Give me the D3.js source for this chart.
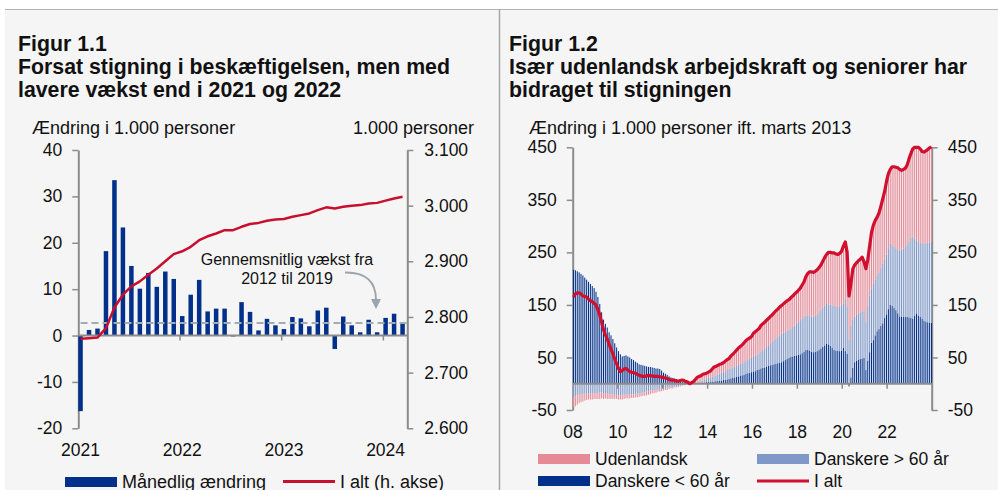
<!DOCTYPE html>
<html><head><meta charset="utf-8">
<script src="https://cdn.jsdelivr.net/npm/d3@7"></script>
<style>
body{margin:0;background:#fff;}
svg{display:block;font-family:"Liberation Sans",Arial,sans-serif;}
</style></head><body>
<svg id="c" width="998" height="490"></svg>
<script>
// ---------------- Figur 1.1 data ----------------
const months1 = ["2021-01","2021-02","2021-03","2021-04","2021-05","2021-06","2021-07","2021-08","2021-09","2021-10","2021-11","2021-12",
"2022-01","2022-02","2022-03","2022-04","2022-05","2022-06","2022-07","2022-08","2022-09","2022-10","2022-11","2022-12",
"2023-01","2023-02","2023-03","2023-04","2023-05","2023-06","2023-07","2023-08","2023-09","2023-10","2023-11","2023-12",
"2024-01","2024-02","2024-03"];
const monthlyChange = [-16.3,1.2,1.5,18.2,33.5,23.3,15.0,10.1,13.5,10.5,13.8,12.2,
4.2,8.8,12.0,5.2,5.8,5.8,-0.2,7.2,5.1,1.1,3.6,2.2,
1.4,4.0,3.7,2.0,5.4,6.0,-2.9,4.1,2.2,0.7,3.4,0.7,
3.8,4.7,2.6];
const totalLevel = [2761,2762,2763,2780,2817,2840,2855,2864,2876,2887,2900,2913,
2918,2926,2938,2945,2950,2956,2956,2962,2967,2969,2973,2975,
2976,2980,2983,2986,2992,2997,2995,2998,3000,3001,3004,3005,
3009,3013,3016];
const avgGrowth = 2.7;
const yearLabels1 = ["2021","2022","2023","2024"];
const leftTicks1 = [-20,-10,0,10,20,30,40];
const rightTicks1 = [2600,2700,2800,2900,3000,3100];

// ---------------- Figur 1.2 data (monthly, Jan 2008 - Dec 2023) ----------------
const years2 = [2008,2009,2010,2011,2012,2013,2014,2015,2016,2017,2018,2019,2020,2021,2022,2023];
const danskereUnder60 = [
217,216,214,212,209,206,202,198,194,190,186,182,
175,165,152,136,122,114,107,98,92,85,77,69,
62,56,52,53,54,52,50,47,45,42,40,37,
36,35,34,33,32,32,31,30,29,29,28,25,
21,19,17,14,12,11,10,9,7,6,4,3,
3,2,0,0,0,1,1,1,2,2,2,3,
3,3,4,4,5,5,6,6,7,7,8,9,
10,11,12,13,14,15,16,17,19,20,21,22,
23,24,26,27,29,30,31,32,34,35,36,37,
38,39,40,41,43,45,47,49,51,52,53,54,
55,56,58,61,64,65,63,61,60,61,62,64,
67,70,73,76,75,72,68,64,63,63,62,63,
68,62,57,-5,12,30,41,44,46,47,48,49,
26,44,60,78,83,92,100,104,110,115,125,132,
142,150,148,144,140,134,128,127,127,127,127,126,
125,124,130,134,130,127,124,120,118,117,116,116];
const danskereOver60 = [
-25,-24,-22,-20,-20,-20,-19,-19,-19,-19,-19,-18,
-18,-18,-17,-17,-18,-18,-19,-19,-20,-20,-21,-21,
-22,-22,-22,-21,-21,-21,-21,-20,-20,-19,-19,-18,
-18,-17,-16,-15,-14,-13,-12,-12,-11,-10,-10,-9,
-9,-8,-8,-7,-6,-6,-5,-5,-4,-3,-3,-2,
-1,-1,0,0.5,1,1,1.5,2,3,4,6,6,
8,9,9,10,11,12,13,15,15,17,18,19,
19,20,20,21,22,23,23,24,24,25,26,27,
28,29,30,31,32,34,36,38,39,41,44,46,
48,50,52,54,54,54,54,54,54,56,58,61,
63,65,66,66,66,65,66,67,68,68,69,72,
73,75,76,76,76,78,81,84,84,83,84,85,
84,98,89,83,98,92,87,87,88,89,90,89,
92,102,108,102,107,106,106,108,110,113,111,114,
116,117,116,117,118,121,126,128,130,133,138,144,
153,156,146,139,140,141,142,146,149,151,153,154];
const udenlandsk = [
-19,-19,-18,-17,-15,-14,-13,-12,-11,-11,-11,-11,
-11,-11,-12,-11,-11,-10,-10,-10,-9,-9,-8,-8,
-8,-8,-8,-8,-7,-7,-7,-7,-7,-7,-7,-7,
-6,-6,-7,-7,-7,-7,-6,-6,-6,-5,-5,-5,
-4,-4,-4,-3,-3,-3,-2,-2,-2,-2,-1,-1,
-1,0,0,1.5,3,6,9.5,11,10,12,11,11,
11,12,15,18,17,18,18,17,18,19,20,20,
24,25,28,30,32,33,35,37,39,40,40,41,
45,46,46,47,50,50,50,51,51,52,51,52,
53,53,54,54,55,56,57,57,59,59,60,59,
60,61,64,67,74,80,84,85,84,85,86,85,
86,88,91,94,99,100,100,101,100,100,102,104,
110,110,104,84,80,96,98,99,100,101,103,94,
101,90,94,108,112,113,111,113,118,124,130,139,
142,141,149,152,154,156,154,151,151,150,151,158,
160,167,174,177,180,179,176,175,176,178,180,181];
const iAlt = [
165,171,173,173,171,167,166,165,161,158,156,153,
150,141,131,117,103,93,85,75,66,57,47,38,
29,23,25,28,29,26,23,22,21,20,18,16,
15,14,14,15,16,15,15,14,14,14,13,13,
11,11,10,8,7,7,6,5,5,6,7,6,
4,3,0,2,4,8,12,14,15,18,19,20,
22,24,28,32,33,35,37,38,40,43,46,48,
53,56,60,64,68,71,74,78,82,85,87,90,
96,99,102,105,111,114,117,121,124,128,131,135,
139,142,146,149,152,155,158,160,164,167,171,174,
178,182,188,194,204,210,213,213,212,214,217,221,
226,233,240,246,250,250,249,249,247,246,248,252,
262,270,250,167,190,218,226,230,234,237,241,232,
219,236,262,288,302,311,317,325,338,352,366,385,
400,408,413,413,412,411,408,406,408,410,416,428,
438,447,450,450,450,447,442,441,443,446,449,451];
const yearTicks2 = [2008,2010,2012,2014,2016,2018,2020,2022];
const yTicks2 = [-50,50,150,250,350,450];

// ---------------- drawing ----------------
const svg = d3.select("#c");
const AX = "#8c8c8c", TXT = "#111";
const BLUE = "#00308a", RED1 = "#c8102e", RED2 = "#d0102e";
const PINK = "#e68a98", MBLUE = "#7f98c8";

svg.append("rect").attr("x",5).attr("y",9.5).attr("width",993).attr("height",481).attr("fill","#f5f5f5");
svg.append("line").attr("x1",5).attr("x2",998).attr("y1",9.5).attr("y2",9.5).attr("stroke","#b4b4b4").attr("stroke-width",1.2);
svg.append("line").attr("x1",499.5).attr("x2",499.5).attr("y1",9.5).attr("y2",490).attr("stroke","#a8a8a8").attr("stroke-width",1.5);

function title(x, lines){
  lines.forEach((t,i)=>{
    svg.append("text").attr("x",x).attr("y",51+i*22.8).attr("font-size",21.3).attr("font-weight","bold").attr("fill",TXT).text(t);
  });
}
title(18,["Figur 1.1","Forsat stigning i beskæftigelsen, men med","lavere vækst end i 2021 og 2022"]);
title(509,["Figur 1.2","Især udenlandsk arbejdskraft og seniorer har","bidraget til stigningen"]);

const dk = d3.formatLocale({decimal:",",thousands:".",grouping:[3],currency:["","kr"]});

function styleAxis(g){
  g.select(".domain").attr("stroke",AX).attr("stroke-width",2);
  g.selectAll(".tick line").attr("stroke",AX).attr("stroke-width",1.5);
  g.selectAll(".tick text").attr("fill",TXT).attr("font-size",17.5).attr("font-family","Liberation Sans, Arial, sans-serif");
}

// ===== Chart 1 =====
const c1 = svg.append("g");
const y1 = d3.scaleLinear().domain([-20,40]).range([428.3,150]);
const y1r = d3.scaleLinear().domain([2600,3100]).range([428.3,150]);
const x1 = d3.scaleBand().domain(months1).range([78.3,404.8]).paddingInner(0.47).paddingOuter(0);
const bw1 = x1.bandwidth();
const cx1 = m => x1(m) + bw1/2;

c1.append("text").attr("x",32).attr("y",134).attr("font-size",18).attr("fill",TXT).text("Ændring i 1.000 personer");
c1.append("text").attr("x",474).attr("y",134).attr("font-size",18).attr("fill",TXT).attr("text-anchor","end").text("1.000 personer");

c1.append("g").attr("transform","translate(78.3,0)")
  .call(d3.axisLeft(y1).tickValues(leftTicks1).tickSize(6).tickSizeOuter(0).tickPadding(10).tickFormat(d=>String(d)))
  .call(styleAxis);
c1.append("g").attr("transform","translate(407.3,0)")
  .call(d3.axisRight(y1r).tickValues(rightTicks1).tickSize(6).tickSizeOuter(0).tickPadding(11).tickFormat(dk.format(",")))
  .call(styleAxis);

// bars
c1.append("g").selectAll("rect").data(months1).join("rect")
  .attr("x",m=>x1(m)).attr("width",bw1)
  .attr("y",(m,i)=>y1(Math.max(0,monthlyChange[i])))
  .attr("height",(m,i)=>Math.abs(y1(monthlyChange[i])-y1(0)))
  .attr("fill",BLUE);

// zero axis
c1.append("line").attr("x1",78.3).attr("x2",407.3).attr("y1",y1(0)).attr("y2",y1(0)).attr("stroke",AX).attr("stroke-width",2);
const janIdx1 = [12,24,36];
c1.append("g").selectAll("line").data(janIdx1).join("line")
  .attr("x1",i=>x1(months1[i])).attr("x2",i=>x1(months1[i]))
  .attr("y1",y1(0)).attr("y2",y1(0)+5).attr("stroke",AX).attr("stroke-width",1.5);
c1.append("g").selectAll("text").data(yearLabels1).join("text")
  .attr("x",(t,k)=>cx1(months1[k*12])).attr("y",456).attr("text-anchor","middle")
  .attr("font-size",17.5).attr("fill",TXT).text(t=>t);

// average dashed line
c1.append("line").attr("x1",cx1(months1[0])).attr("x2",407).attr("y1",y1(avgGrowth)).attr("y2",y1(avgGrowth))
  .attr("stroke","#a3acb5").attr("stroke-width",2).attr("stroke-dasharray","7,4");

// total line
c1.append("path").datum(totalLevel)
  .attr("d",d3.line().x((v,i)=>cx1(months1[i])).y(v=>y1r(v)))
  .attr("fill","none").attr("stroke",RED1).attr("stroke-width",2.5).attr("stroke-linejoin","round");

// annotation
c1.append("text").attr("x",287).attr("y",265).attr("text-anchor","middle").attr("font-size",16).attr("fill",TXT).text("Gennemsnitlig vækst fra");
c1.append("text").attr("x",287).attr("y",284).attr("text-anchor","middle").attr("font-size",16).attr("fill",TXT).text("2012 til 2019");
c1.append("path").attr("d","M345,272.5 Q376,272 376,300").attr("fill","none").attr("stroke","#9aa5ae").attr("stroke-width",2);
c1.append("path").attr("d","M371,299 L381,299 L376,309 Z").attr("fill","#9aa5ae");

// legend
c1.append("rect").attr("x",65).attr("y",477).attr("width",52).attr("height",10).attr("fill",BLUE);
c1.append("text").attr("x",122).attr("y",488).attr("font-size",18).attr("fill",TXT).text("Månedlig ændring");
c1.append("line").attr("x1",283).attr("x2",335).attr("y1",481.5).attr("y2",481.5).attr("stroke",RED1).attr("stroke-width",3);
c1.append("text").attr("x",340).attr("y",488).attr("font-size",18).attr("fill",TXT).text("I alt (h. akse)");

// ===== Chart 2 =====
const c2 = svg.append("g");
const y2 = d3.scaleLinear().domain([-50,450]).range([410,147.3]);
const n2 = iAlt.length;
const idx2 = d3.range(n2);
const x2 = d3.scaleBand().domain(idx2).range([573,932]).paddingInner(0.45).paddingOuter(0);
const bw2 = x2.bandwidth();
const xT = d3.scaleLinear().domain([years2[0], years2[years2.length-1]+1]).range([573,932]);

c2.append("text").attr("x",529).attr("y",134).attr("font-size",18).attr("fill",TXT).text("Ændring i 1.000 personer ift. marts 2013");

c2.append("g").attr("transform","translate(572.7,0)")
  .call(d3.axisLeft(y2).tickValues(yTicks2).tickSize(6).tickSizeOuter(0).tickPadding(10).tickFormat(d=>String(d)))
  .call(styleAxis);
c2.append("g").attr("transform","translate(931.7,0)")
  .call(d3.axisRight(y2).tickValues(yTicks2).tickSize(6).tickSizeOuter(0).tickPadding(10).tickFormat(d=>String(d)))
  .call(styleAxis);

const rows = idx2.map(i=>({i, u60:danskereUnder60[i], o60:danskereOver60[i], ud:udenlandsk[i]}));
const keys = ["u60","o60","ud"];
const colors = {u60:BLUE, o60:MBLUE, ud:PINK};
const stacked = d3.stack().keys(keys).offset(d3.stackOffsetDiverging)(rows);
c2.append("g").selectAll("g").data(stacked).join("g").attr("fill",s=>colors[s.key])
  .selectAll("rect").data(s=>s).join("rect")
  .attr("x",d=>x2(d.data.i)).attr("width",bw2)
  .attr("y",d=>y2(Math.max(d[0],d[1])))
  .attr("height",d=>Math.abs(y2(d[0])-y2(d[1])));

c2.append("line").attr("x1",573).attr("x2",932).attr("y1",y2(0)).attr("y2",y2(0)).attr("stroke",AX).attr("stroke-width",2);
c2.append("g").selectAll("line").data(yearTicks2.slice(1)).join("line")
  .attr("x1",d=>xT(d)).attr("x2",d=>xT(d)).attr("y1",y2(0)).attr("y2",y2(0)+5).attr("stroke",AX).attr("stroke-width",1.5);
c2.append("g").selectAll("text").data(yearTicks2).join("text")
  .attr("x",d=>xT(d)).attr("y",438).attr("text-anchor","middle").attr("font-size",17.5).attr("fill",TXT)
  .text(d=>String(d).slice(2));

c2.append("path").datum(iAlt)
  .attr("d",d3.line().x((v,i)=>x2(i)+bw2/2).y(v=>y2(v)))
  .attr("fill","none").attr("stroke",RED2).attr("stroke-width",3.2).attr("stroke-linejoin","round");

// legend 2
const lg = [
  {x:538,y:454,type:"rect",c:PINK,t:"Udenlandsk"},
  {x:757,y:454,type:"rect",c:MBLUE,t:"Danskere > 60 år"},
  {x:538,y:476,type:"rect",c:BLUE,t:"Danskere < 60 år"},
  {x:757,y:476,type:"line",c:RED2,t:"I alt"}];
lg.forEach(d=>{
  if(d.type==="rect") c2.append("rect").attr("x",d.x).attr("y",d.y).attr("width",52).attr("height",10).attr("fill",d.c);
  else c2.append("line").attr("x1",d.x).attr("x2",d.x+52).attr("y1",d.y+5).attr("y2",d.y+5).attr("stroke",d.c).attr("stroke-width",3);
  c2.append("text").attr("x",d.x+57).attr("y",d.y+11).attr("font-size",17.5).attr("fill",TXT).text(d.t);
});
</script>
</body></html>
